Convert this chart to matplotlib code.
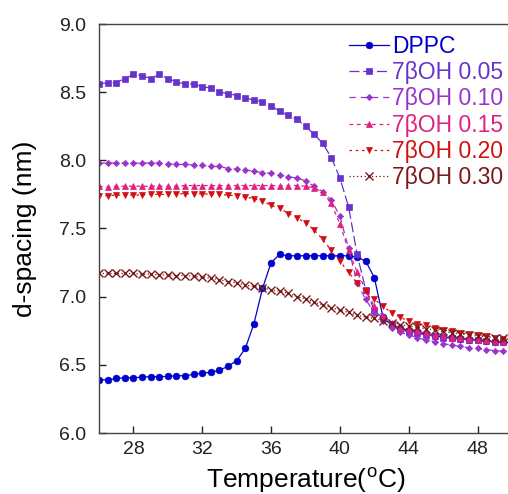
import numpy as np
import matplotlib
matplotlib.use("Agg")
import matplotlib.pyplot as plt

plt.rcParams['font.family'] = ['Liberation Sans', 'DejaVu Sans']

temperature = np.arange(26.0, 50.01, 0.5)

dppc = [6.39, 6.39, 6.40, 6.405, 6.405, 6.41, 6.413, 6.413, 6.415, 6.42, 6.42, 6.43, 6.44, 6.445,
        6.46, 6.49, 6.53, 6.62, 6.80, 7.06, 7.25, 7.31, 7.30, 7.30, 7.30, 7.30, 7.30, 7.30, 7.30,
        7.30, 7.29, 7.26, 7.14, 6.85, 6.79, 6.77, 6.75, 6.74, 6.725, 6.715, 6.705, 6.70, 6.69,
        6.685, 6.68, 6.675, 6.67, 6.665, 6.66]

oh_005 = [8.56, 8.57, 8.57, 8.60, 8.63, 8.62, 8.60, 8.63, 8.60, 8.575, 8.56, 8.56, 8.54, 8.53,
          8.50, 8.49, 8.475, 8.46, 8.44, 8.43, 8.40, 8.36, 8.33, 8.30, 8.25, 8.19, 8.125, 8.02,
          7.87, 7.66, 7.31, 7.05, 6.90, 6.84, 6.80, 6.76, 6.74, 6.73, 6.72, 6.71, 6.70, 6.695,
          6.69, 6.685, 6.68, 6.675, 6.67, 6.665, 6.66]

oh_010 = [7.98, 7.98, 7.98, 7.98, 7.98, 7.98, 7.98, 7.98, 7.975, 7.97, 7.97, 7.965, 7.965, 7.955,
          7.955, 7.94, 7.935, 7.93, 7.92, 7.91, 7.905, 7.89, 7.88, 7.87, 7.85, 7.81, 7.77, 7.71,
          7.59, 7.355, 7.10, 6.98, 6.88, 6.82, 6.77, 6.74, 6.72, 6.70, 6.68, 6.67, 6.655, 6.645,
          6.635, 6.625, 6.62, 6.61, 6.605, 6.60, 6.595]

oh_015 = [7.81, 7.805, 7.81, 7.81, 7.81, 7.81, 7.81, 7.81, 7.81, 7.81, 7.815, 7.815, 7.815, 7.815,
          7.815, 7.815, 7.815, 7.815, 7.815, 7.815, 7.815, 7.815, 7.815, 7.815, 7.81, 7.80, 7.765,
          7.685, 7.53, 7.34, 7.18, 7.05, 6.93, 6.86, 6.81, 6.78, 6.76, 6.745, 6.73, 6.72, 6.71,
          6.70, 6.695, 6.69, 6.685, 6.68, 6.675, 6.67, 6.665]

oh_020 = [7.74, 7.74, 7.745, 7.745, 7.745, 7.745, 7.75, 7.75, 7.75, 7.755, 7.755, 7.755, 7.755,
          7.75, 7.75, 7.745, 7.74, 7.73, 7.72, 7.70, 7.67, 7.65, 7.61, 7.58, 7.54, 7.49, 7.42,
          7.34, 7.26, 7.18, 7.10, 7.04, 6.98, 6.93, 6.88, 6.85, 6.82, 6.80, 6.79, 6.77, 6.755,
          6.745, 6.735, 6.725, 6.72, 6.71, 6.70, 6.69, 6.685]

oh_030 = [7.17, 7.17, 7.17, 7.17, 7.17, 7.165, 7.165, 7.16, 7.16, 7.155, 7.155, 7.15, 7.145,
          7.135, 7.125, 7.11, 7.10, 7.085, 7.075, 7.065, 7.05, 7.04, 7.025, 7.00, 6.985, 6.96,
          6.94, 6.92, 6.90, 6.885, 6.865, 6.85, 6.84, 6.825, 6.81, 6.795, 6.785, 6.775, 6.765,
          6.755, 6.745, 6.735, 6.725, 6.72, 6.71, 6.705, 6.70, 6.695, 6.69]

labels = ["DPPC", "7\u03b2OH 0.05", "7\u03b2OH 0.10", "7\u03b2OH 0.15", "7\u03b2OH 0.20", "7\u03b2OH 0.30"]
x_ticks = [28, 32, 36, 40, 44, 48]
y_ticks = [6.0, 6.5, 7.0, 7.5, 8.0, 8.5, 9.0]

series = [dppc, oh_005, oh_010, oh_015, oh_020, oh_030]
colors = ["#0000CC", "#6633CC", "#9933CC", "#E0207F", "#D01010", "#7A1A1A"]
markers = ["o", "s", "D", "^", "v", "x"]
msizes = [4.8, 4.8, 3.2, 4.6, 4.6, 5.5]
styles = ["-", (0, (8, 3)), (0, (5, 4)), (0, (3, 3)), (0, (2, 3)), (0, (1, 2))]

W, H = 508, 494
fig = plt.figure(figsize=(W / 100, H / 100), dpi=100)
fig.patch.set_facecolor("white")
ax = fig.add_axes([99 / W, (H - 433) / H, (512 - 99) / W, (433 - 24) / H])

for ys, c, m, ms, ls, lab in zip(series, colors, markers, msizes, styles, labels):
    ax.plot(temperature, ys, color=c, marker=m, markersize=ms, linestyle=ls,
            linewidth=0.9, label=lab, markeredgewidth=1.0 if m == "x" else 0.5,
            clip_on=True)

ax.set_xlim(26, 50)
ax.set_ylim(6.0, 9.0)
ax.set_xticks(x_ticks)
ax.set_yticks(y_ticks)
ax.set_yticklabels([f"{v:.1f}" for v in y_ticks])
ax.tick_params(direction="in", length=5, width=1, labelsize=14, colors="#222222")
ax.tick_params(axis="y", pad=9)
ax.tick_params(axis="x", pad=6)
for s in ["left", "bottom", "top"]:
    ax.spines[s].set_color("#444444")
    ax.spines[s].set_linewidth(1.0)
ax.spines["right"].set_visible(False)

ax.set_xlabel("Temperature($^{\\mathregular{o}}$C)", fontsize=19, labelpad=5)
ax.set_ylabel("d-spacing (nm)", fontsize=19, labelpad=16)

leg = ax.legend(loc="upper left", bbox_to_anchor=((349 - 99) / 413, (433 - 35) / 409),
                frameon=False, fontsize=16.5, handlelength=1.75, handletextpad=0.13,
                labelspacing=0.14, borderaxespad=0.0, borderpad=0.0)
for txt, c in zip(leg.get_texts(), colors):
    txt.set_color(c)

fig.savefig("out.png", dpi=100)
